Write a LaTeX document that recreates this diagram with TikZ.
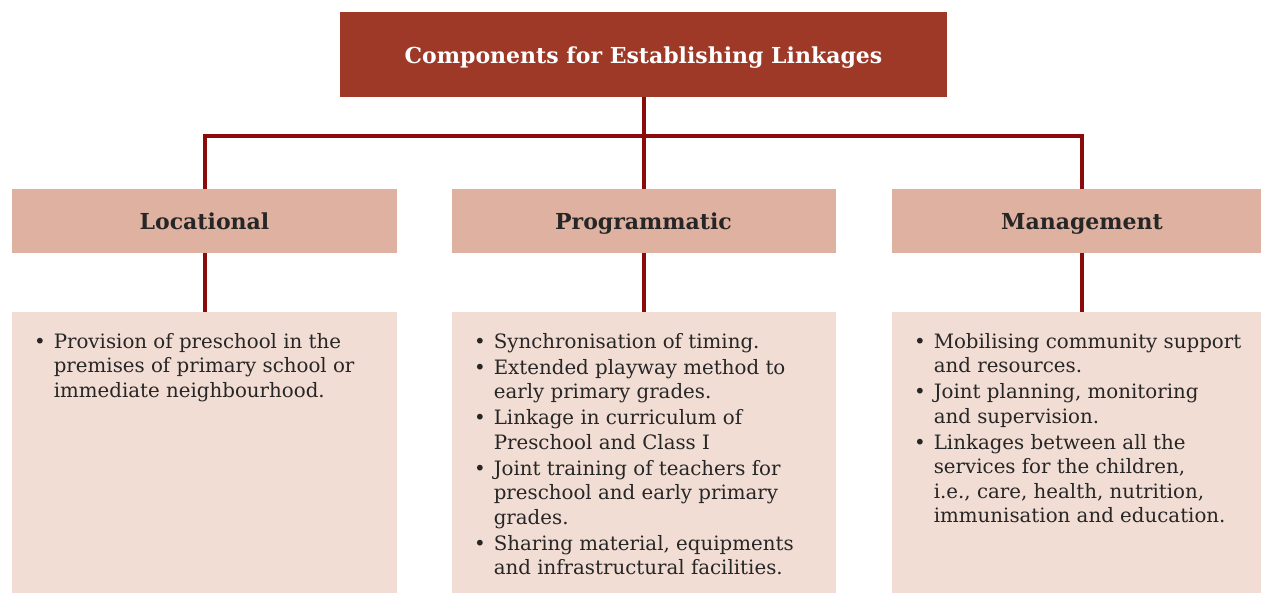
\documentclass[tikz,border=0pt]{standalone}
\usepackage{fontspec}
\setmainfont{DejaVu Serif}
\usetikzlibrary{positioning}
\definecolor{titlered}{HTML}{9E3827}
\definecolor{linkred}{HTML}{8B0A0A}
\definecolor{headfill}{HTML}{DEB1A0}
\definecolor{bodyfill}{HTML}{F2DDD4}
\tikzset{
  titlebox/.style={fill=titlered, text=white, minimum width=607pt, minimum height=85pt,
    text height=18.5pt, text depth=1.5pt, font=\fontsize{22}{26}\selectfont\bfseries},
  headbox/.style={fill=headfill, text=black!85, minimum height=64pt,
    text height=18.5pt, text depth=1.5pt, font=\fontsize{22}{26}\selectfont\bfseries},
  bodybox/.style={fill=bodyfill, minimum height=300pt, anchor=north},
  bodytext/.style={anchor=north west, inner sep=0pt, text=black!85,
    font=\fontsize{19.8}{24.5}\selectfont},
  link/.style={draw=linkred, line width=4pt}
}
\newcommand{\pt}{\textbullet\hspace{0.4em}}
\newcommand{\ct}{\phantom{\textbullet}\hspace{0.4em}}
\begin{document}
\begin{tikzpicture}[x=1pt, y=-1pt]
  \useasboundingbox (0,0) rectangle (1261,592);
  % top box
  \node[titlebox] (title) at (643.5,54.5) {Components for Establishing Linkages};
  % heads
  \node[headbox, minimum width=385pt] (loc) at (204.5,221) {Locational};
  \node[headbox, minimum width=384pt] (prog) at (643.5,221) {Programmatic};
  \node[headbox, minimum width=380pt] (mgmt) at (1082,221) {Management};
  % bodies
  \node[bodybox, minimum width=385pt] (locbody) at (204.5,312) {};
  \node[bodybox, minimum width=384pt] (progbody) at (643.5,312) {};
  \node[bodybox, minimum width=380pt] (mgmtbody) at (1082,312) {};
  % links
  \coordinate (fork) at (643.5,136);
  \draw[link] (title.south) -- (fork);
  \draw[link] (loc.north) -- (loc.north |- fork) -- (mgmt.north |- fork) -- (mgmt.north);
  \draw[link] (fork) -- (prog.north);
  \draw[link] (loc.south) -- (locbody.north);
  \draw[link] (prog.south) -- (progbody.north);
  \draw[link] (mgmt.south) -- (mgmtbody.north);
  % texts
  \node[bodytext] (loctext) at (34,331) {\begin{tabular}{@{}l@{}}
    \pt Provision of preschool in the\\
    \ct premises of primary school or\\
    \ct immediate neighbourhood.
  \end{tabular}};
  \node[bodytext] (progtext) at (474,331) {\begin{tabular}{@{}l@{}}
    \pt Synchronisation of timing.\\[1.5pt]
    \pt Extended playway method to\\
    \ct early primary grades.\\[1.5pt]
    \pt Linkage in curriculum of\\
    \ct Preschool and Class I\\[1.5pt]
    \pt Joint training of teachers for\\
    \ct preschool and early primary\\
    \ct grades.\\[1.5pt]
    \pt Sharing material, equipments\\
    \ct and infrastructural facilities.
  \end{tabular}};
  \node[bodytext] (mgmttext) at (914,331) {\begin{tabular}{@{}l@{}}
    \pt Mobilising community support\\
    \ct and resources.\\[1.5pt]
    \pt Joint planning, monitoring\\
    \ct and supervision.\\[1.5pt]
    \pt Linkages between all the\\
    \ct services for the children,\\
    \ct i.e., care, health, nutrition,\\
    \ct immunisation and education.
  \end{tabular}};
\end{tikzpicture}
\end{document}
